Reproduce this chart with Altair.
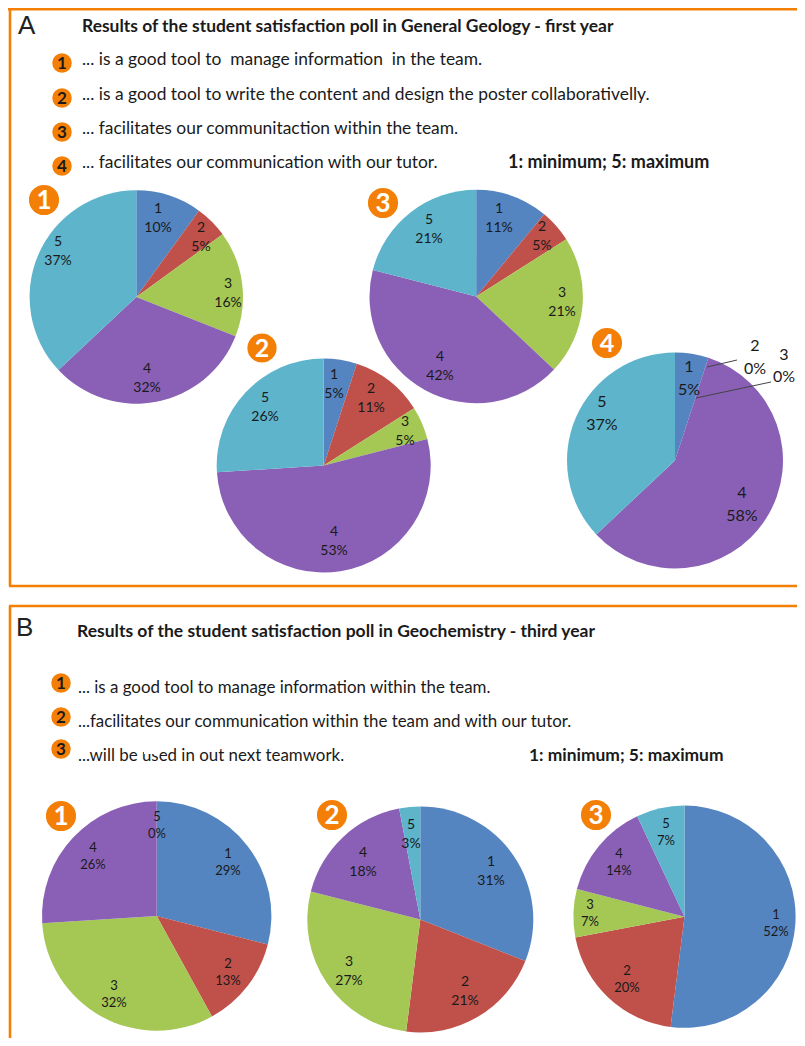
import altair as alt
import pandas as pd

CATS = [1, 2, 3, 4, 5]
COLORS = ["#5485C1", "#C0504A", "#A5C854", "#8A60B6", "#5DB4CB"]
ORANGE = "#F47F06"
INK = "#1a1a1a"
FONT = "Lato"

A1 = [10, 5, 16, 32, 37]
A2 = [5, 11, 5, 53, 26]
A3 = [11, 5, 21, 42, 21]
A4 = [5, 0, 0, 58, 37]
B1 = [29, 13, 32, 26, 0]
B2 = [31, 21, 27, 18, 3]
B3 = [52, 20, 7, 14, 7]

TITLE_A = "Results of the student satisfaction poll in General Geology - first year"
LINES_A = [
    "... is a good tool to \u00a0manage information \u00a0in the team.",
    "... is a good tool to write the content and design the poster collaborativelly.",
    "... facilitates our communitaction within the team.",
    "... facilitates our communication with our tutor.",
]
TITLE_B = "Results of the student satisfaction poll in Geochemistry - third year"
LINES_B = [
    "... is a good tool to manage information within the team.",
    "...facilitates our communication within the team and with our tutor.",
    "...will be used in out next teamwork.",
]
SCALE_NOTE = "1: minimum; 5: maximum"

W, H = 789, 1030
px = lambda v: v - 8

layers = []


def text(s, x, y, size, weight="normal", color=INK, align="left", font=FONT):
    layers.append(
        alt.Chart(pd.DataFrame({"t": [s]}))
        .mark_text(align=align, baseline="middle", fontSize=size, fontWeight=weight, color=color, font=font)
        .encode(text="t:N", x=alt.value(px(x)), y=alt.value(px(y)))
    )


def rule(x1, y1, x2, y2, color=ORANGE, width=2.6):
    layers.append(
        alt.Chart(pd.DataFrame({"k": [0]}))
        .mark_rule(color=color, strokeWidth=width)
        .encode(x=alt.value(px(x1)), x2=alt.value(px(x2)), y=alt.value(px(y1)), y2=alt.value(px(y2)))
    )


def bubble(label, x, y, r, color, size):
    layers.append(
        alt.Chart(pd.DataFrame({"k": [0]}))
        .mark_point(filled=True, shape="circle", color=ORANGE, opacity=1, size=3.14159 * r * r)
        .encode(x=alt.value(px(x)), y=alt.value(px(y)))
    )
    text(str(label), x, y + 0.5, size, "bold", color, "center")


def pie(vals, cx, cy, r, size, gap, anchors):
    df = pd.DataFrame({"cat": CATS, "value": vals})
    layers.append(
        alt.Chart(df)
        .mark_arc(outerRadius=r)
        .encode(
            theta=alt.Theta("value:Q", stack=True,
                            scale=alt.Scale(domain=[0, 100], range=[0, 6.283185307])),
            color=alt.Color("cat:N", scale=alt.Scale(domain=CATS, range=COLORS), legend=None),
            order=alt.Order("cat:O"),
            x=alt.value(px(cx)),
            y=alt.value(px(cy)),
        )
    )
    for cat, val, anchor in zip(CATS, vals, anchors):
        if anchor is None:
            continue
        text(str(cat), anchor[0], anchor[1] - gap / 2, size, align="center")
        text(f"{val}%", anchor[0], anchor[1] + gap / 2, size, align="center")


# frames
rule(8, 9.3, 805, 9.3)
rule(10, 8, 10, 586)
rule(9, 586, 805, 586)
rule(9, 606, 805, 606)
rule(10, 606, 10, 1046)

# panel A
text("A", 18, 26, 26, color="#222222", font="Liberation Sans")
text(TITLE_A, 82, 27, 17.45, "bold")
for s, y in zip(LINES_A, [60, 95, 129, 163]):
    text(s, 82, y, 17.4)
text(SCALE_NOTE, 508, 163, 18, "bold")
for i, y in enumerate([63, 98, 132, 166]):
    bubble(i + 1, 62, y, 11, INK, 17)

pie(A1, 136.3, 297, 106.7, 14, 19, [(158, 218), (201, 237), (228, 293), (147, 378), (58, 251)])
pie(A3, 476.2, 296.5, 106.7, 14, 19, [(499, 218), (542, 236), (562, 302), (440, 366), (429, 229)])
pie(A2, 323.7, 465.5, 107, 14, 19, [(334, 384), (371, 398), (405, 431), (334, 541), (265, 407)])
pie(A4, 675, 460.5, 108, 16, 23, [(689, 378), None, None, (742, 504), (602, 413)])

bubble(1, 44, 200, 17, "white", 26)
bubble(3, 383, 203, 17, "white", 26)
bubble(2, 262, 348, 16.5, "white", 25)
bubble(4, 607, 343, 17, "white", 25)

rule(707, 367, 737, 360, "#444444", 1)
rule(696, 398, 771, 382, "#444444", 1)
text(str(CATS[1]), 755, 346, 16, align="center")
text(f"{A4[1]}%", 755, 369, 16, align="center")
text(str(CATS[2]), 784, 355, 16, align="center")
text(f"{A4[2]}%", 784, 377, 16, align="center")

# panel B
text("B", 16, 628, 26, color="#222222", font="Liberation Sans")
text(TITLE_B, 77, 632, 17.5, "bold")
for s, y in zip(LINES_B, [688, 722, 756]):
    text(s, 78, y, 16.9)
text(SCALE_NOTE, 529, 756, 17.4, "bold")
for i, y in enumerate([683, 717, 749]):
    bubble(i + 1, 61, y, 11, INK, 17)

pie(B1, 156.7, 916, 114.7, 13, 17, [(228, 862), (228, 972), (114, 994), (93, 856), (157, 825)])
pie(B2, 420.3, 919.5, 113, 14, 19, [(491, 871), (465, 991), (349, 971), (363, 862), (411, 834)])
pie(B3, 684.5, 916.7, 111.1, 13, 17, [(776, 923), (627, 979), (590, 913), (619, 862), (666, 832)])

bubble(1, 61, 816, 17, "white", 26)
bubble(2, 332, 815, 17, "white", 26)
bubble(3, 596, 815, 17, "white", 26)

# the source picture has a small patch erasing the top of "used"
layers.append(
    alt.Chart(pd.DataFrame({"k": [0]}))
    .mark_rect(color="white")
    .encode(x=alt.value(px(144)), x2=alt.value(px(160)), y=alt.value(px(748)), y2=alt.value(px(754)))
)

chart = (
    alt.layer(*layers)
    .properties(width=W, height=H, padding=0, autosize=alt.AutoSizeParams(type="none"), background="white")
    .configure_view(stroke=None)
)
chart.save("out.html", embed_options={"renderer": "svg", "actions": False})
